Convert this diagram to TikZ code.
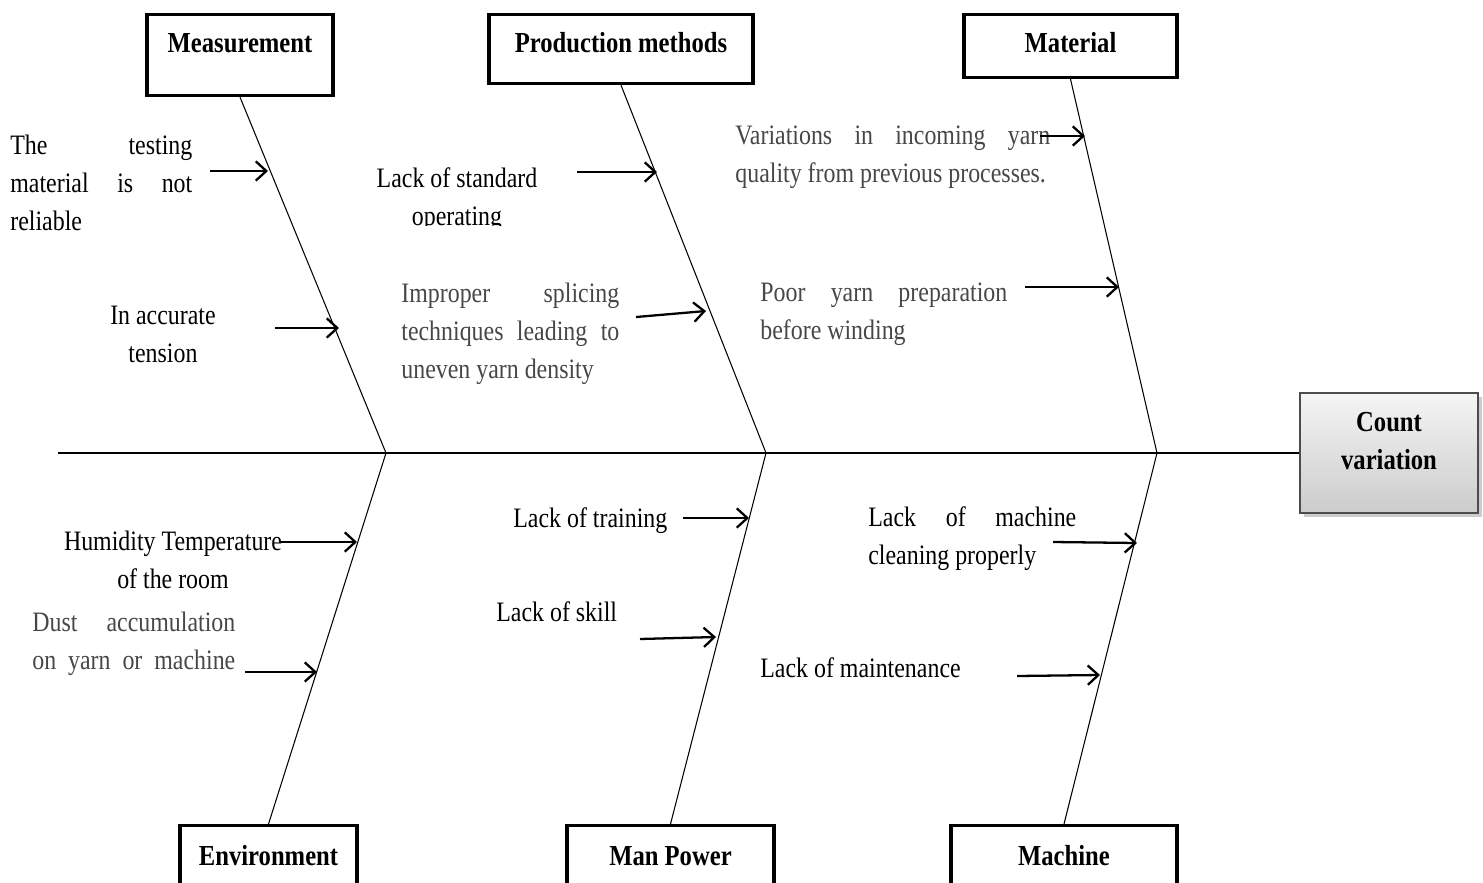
\documentclass[tikz,border=0pt]{standalone}
\usepackage{fontspec}
\setmainfont{Liberation Serif}[FakeStretch=0.85]
\usetikzlibrary{arrows.meta,shadows}
\definecolor{txtgray}{HTML}{474747}
\newcommand{\spreadline}[2]{\makebox[#1][s]{#2}}

\begin{document}
\begin{tikzpicture}[x=0.02cm, y=-0.02cm,
  catbox/.style={draw, line width=1.8pt, inner sep=0pt, text height=0.76cm,
    font=\fontsize{16.5}{20}\selectfont\bfseries},
  lowbox/.style={catbox, text height=0.8cm, text depth=0.4cm},
  cause/.style={inner sep=0pt, align=left, anchor=north west,
    font=\fontsize{16}{21.6}\selectfont},
  bone/.style={line width=0.6pt},
  causearrow/.style={-{Straight Barb[length=6pt,width=11pt]}, line width=1.3pt}
  ]
  \clip (0,0) rectangle (1483,882);

  % effect and spine
  \node[draw=gray!60!black, line width=0.8pt, top color=gray!8, bottom color=gray!40,
    drop shadow={shadow xshift=2pt, shadow yshift=-2pt, opacity=0.4},
    minimum width=3.56cm, minimum height=2.4cm, align=center,
    font=\fontsize{16.5}{21.6}\selectfont\bfseries] (effect) at (1389,453) {Count\\variation\\[-8pt]\mbox{}};
  \coordinate (tail) at (58,453);
  \coordinate (j1) at (386,453);
  \coordinate (j2) at (766,453);
  \coordinate (j3) at (1157,453);
  \draw[bone] (tail) -- (effect.west);

  % categories
  \node[catbox, anchor=north, minimum width=3.72cm, text depth=0.86cm] (meas) at (240,13) {Measurement};
  \node[catbox, anchor=north, minimum width=5.28cm, text depth=0.62cm] (prod) at (621,13) {Production methods};
  \node[catbox, anchor=north, minimum width=4.26cm, text depth=0.5cm] (mate) at (1070.5,13) {Material};
  \node[lowbox, anchor=north, minimum width=3.54cm] (envi) at (268.5,824) {Environment};
  \node[lowbox, anchor=north, minimum width=4.14cm] (manp) at (670.5,824) {Man Power};
  \node[lowbox, anchor=north, minimum width=4.52cm] (mach) at (1064,824) {Machine};

  % bones
  \draw[bone] (meas.south) -- (j1);
  \draw[bone] (prod.south) -- (j2);
  \draw[bone] (mate.south) -- (j3);
  \draw[bone] (envi.north) -- (j1);
  \draw[bone] (manp.north) -- (j2);
  \draw[bone] (mach.north) -- (j3);

  % causes
  \node[cause] (c1) at (10,135) {\spreadline{3.64cm}{The testing}\\
    \spreadline{3.64cm}{material is not}\\ reliable};
  \node[cause, align=center, anchor=north] (c2) at (163,306) {In accurate\\tension};
  \begin{scope}
    \clip (340,150) rectangle (575,225);
    \node[cause, align=center, anchor=north] (c3) at (457,167) {Lack of standard\\operating};
  \end{scope}
  \node[cause, txtgray] (c4) at (401,283) {\spreadline{4.36cm}{Improper splicing}\\
    \spreadline{4.36cm}{techniques leading to}\\ uneven yarn density};
  \node[cause, txtgray] (c5) at (735,126) {\spreadline{6.3cm}{Variations in incoming yarn}\\
    quality from previous processes.};
  \node[cause, txtgray] (c6) at (760,283) {\spreadline{4.94cm}{Poor yarn preparation}\\
    before winding};
  \node[cause, align=center, anchor=north] (c7) at (173,531) {Humidity Temperature\\of the room};
  \node[cause, txtgray] (c8) at (32,612) {\spreadline{4.06cm}{Dust accumulation}\\
    \spreadline{4.06cm}{on yarn or machine}};
  \node[cause] (c9) at (513,507) {Lack of training};
  \node[cause] (c10) at (496,601) {Lack of skill};
  \node[cause] (c11) at (868,506) {\spreadline{4.16cm}{Lack of machine}\\ cleaning properly};
  \node[cause] (c12) at (760,657) {Lack of maintenance};

  % arrows onto the bones
  \coordinate (s1) at (210,171);   \coordinate (e1) at (268,171);
  \coordinate (s2) at (275,328);   \coordinate (e2) at (339,328);
  \coordinate (s3) at (577,172);   \coordinate (e3) at (657,172);
  \coordinate (s4) at (636,317);   \coordinate (e4) at (706,311);
  \coordinate (s5) at (1040,136);  \coordinate (e5) at (1085,136);
  \coordinate (s6) at (1025,287);  \coordinate (e6) at (1119,287);
  \coordinate (s7) at (280,542);   \coordinate (e7) at (357,542);
  \coordinate (s8) at (245,672);   \coordinate (e8) at (317,672);
  \coordinate (s9) at (683,518);   \coordinate (e9) at (749,518);
  \coordinate (s10) at (640,639);  \coordinate (e10) at (716,637);
  \coordinate (s11) at (1053,542); \coordinate (e11) at (1137,543);
  \coordinate (s12) at (1017,676); \coordinate (e12) at (1100,675);
  \foreach \i in {1,...,12}
    \draw[causearrow] (s\i) -- (e\i);
\end{tikzpicture}
\end{document}
